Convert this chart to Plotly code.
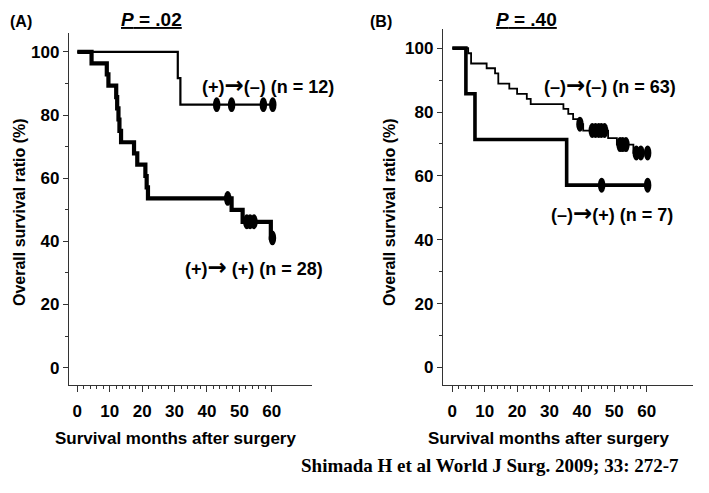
import plotly.graph_objects as go

W, H = 709, 493
OFF = 8  # default page body margin in the browser

# ---------------- data ----------------
# Panel A: (+)->(-) n=12 (thin)
a_neg_t = [0, 31.0, 31.8, 60.3]
a_neg_s = [100, 91.7, 83.3, 83.3]
a_neg_cens_t = [43.0, 47.6, 57.4, 60.3]
a_neg_cens_s = [83.3, 83.3, 83.3, 83.3]

# Panel A: (+)->(+) n=28 (thick)
a_pos_t = [0, 4.4, 9.1, 9.6, 12.0, 12.3, 12.7, 13.0, 13.5, 17.5, 18.5, 21.0, 21.4, 21.8, 47.6, 51.0, 59.7, 60.2]
a_pos_s = [100, 96.4, 92.9, 89.3, 85.7, 82.1, 78.6, 75.0, 71.4, 67.9, 64.3, 60.7, 57.1, 53.6, 50.0, 46.2, 41.1, 41.1]
a_pos_cens_t = [46.4, 52.3, 53.3, 54.5, 60.2]
a_pos_cens_s = [53.6, 46.2, 46.2, 46.2, 41.1]

# Panel B: (-)->(-) n=63 (thin)
b_neg_t = [0, 4.9, 5.8, 10.6, 13.2, 14.2, 17.6, 20.0, 23.0, 24.2, 34.3, 35.8, 37.3, 38.9, 40.4, 48.1, 50.8, 55.9, 60.3]
b_neg_s = [100, 98.4, 95.2, 93.7, 92.1, 88.9, 87.3, 85.7, 84.1, 82.5, 81.0, 79.4, 77.8, 76.2, 74.2, 71.8, 69.8, 67.2, 67.2]
b_neg_cens_t = [39.4, 43.2, 44.2, 45.2, 46.0, 47.0, 51.8, 52.6, 53.6, 56.8, 58.2, 60.3]
b_neg_cens_s = [76.2, 74.2, 74.2, 74.2, 74.2, 74.2, 69.8, 69.8, 69.8, 67.2, 67.2, 67.2]

# Panel B: (-)->(+) n=7 (thick)
b_pos_t = [0, 4.2, 7.0, 35.3, 60.3]
b_pos_s = [100, 85.7, 71.4, 57.1, 57.1]
b_pos_cens_t = [46.1, 60.3]
b_pos_cens_s = [57.1, 57.1]

x_ticks = [0, 10, 20, 30, 40, 50, 60]
x_minor = [t for t in range(0, 61, 2) if t % 10]
y_ticks = [0, 20, 40, 60, 80, 100]
y_minor = [10, 30, 50, 70, 90]

ARROW = "<span style='font-family:DejaVu Sans;font-size:23px'>\u2192</span>"
labels = {
    "a_neg": "(+)" + ARROW + "(\u2013) (n = 12)",
    "a_pos": "(+)" + ARROW + " (+) (n = 28)",
    "b_neg": "(\u2013)" + ARROW + "(\u2013) (n = 63)",
    "b_pos": "(\u2013)" + ARROW + "(+) (n = 7)",
}

# ---------------- figure ----------------
FONT = "Liberation Sans, Arial, sans-serif"
FW, FH = W - OFF, H - OFF

def px_x(p):
    return (p - OFF) / FW

def px_y(p):
    return 1 - (p - OFF) / FH

fig = go.Figure()

def add_curve(t, s, width, xa, ya):
    fig.add_trace(go.Scatter(x=t, y=s, mode="lines", line=dict(color="black", width=width, shape="hv"),
                             xaxis=xa, yaxis=ya, showlegend=False, hoverinfo="skip"))

add_curve(a_neg_t, a_neg_s, 2.2, "x", "y")
add_curve(a_pos_t, a_pos_s, 4.2, "x", "y")
add_curve(b_neg_t, b_neg_s, 1.8, "x2", "y2")
add_curve(b_pos_t, b_pos_s, 3.6, "x2", "y2")

shapes = []
def add_censors(ts, ss, xr, yr, hw=1.15, hh=2.35):
    for t, s in zip(ts, ss):
        shapes.append(dict(type="circle", xref=xr, yref=yr, x0=t - hw, x1=t + hw, y0=s - hh, y1=s + hh,
                           fillcolor="black", line=dict(width=0)))

add_censors(a_neg_cens_t, a_neg_cens_s, "x", "y")
add_censors(a_pos_cens_t, a_pos_cens_s, "x", "y")
add_censors(b_neg_cens_t, b_neg_cens_s, "x2", "y2")
add_censors(b_pos_cens_t, b_pos_cens_s, "x2", "y2")

axis_common = dict(showline=True, linecolor="#333", linewidth=1.3, ticks="outside", tickcolor="#333",
                   showgrid=False, zeroline=False, tickfont=dict(family=FONT, size=17, color="black", weight="bold"))

xaxis_common = dict(axis_common, tickvals=x_ticks, ticklen=6, tickwidth=1.3, ticklabelstandoff=4,
                    minor=dict(tickvals=x_minor, ticklen=3, tickcolor="#333", tickwidth=1, ticks="outside"))
yaxis_common = dict(axis_common, tickvals=y_ticks, ticklen=5, tickwidth=1.3, range=[-5.5, 106],
                    minor=dict(tickvals=y_minor, ticklen=3, tickcolor="#333", tickwidth=1, ticks="outside"))

fig.update_layout(
    width=FW, height=FH, margin=dict(l=0, r=0, t=0, b=0),
    paper_bgcolor="white", plot_bgcolor="white",
    xaxis=dict(xaxis_common, domain=[px_x(69), px_x(312)], range=[-2.56, 72.4], anchor="y"),
    yaxis=dict(yaxis_common, domain=[px_y(385), px_y(33)], anchor="x"),
    xaxis2=dict(xaxis_common, domain=[px_x(443), px_x(693)], range=[-2.87, 74.3], anchor="y2"),
    yaxis2=dict(yaxis_common, domain=[px_y(385), px_y(29)], anchor="x2"),
    shapes=shapes,
)

anns = []
def ann(text, x, y, size=17, angle=0, family=FONT, bold=True, xanchor="center"):
    anns.append(dict(text=text, x=px_x(x), y=px_y(y), xref="paper", yref="paper", showarrow=False,
                     xanchor=xanchor, yanchor="middle", textangle=angle,
                     font=dict(family=family, size=size, color="black", weight="bold" if bold else "normal")))

ann("(A)", 8, 21, size=16, xanchor="left")
ann("(B)", 381, 21, size=16)
ann("<u><i>P</i> = .02</u>", 151, 19, size=19)
ann("<u><i>P</i> = .40</u>", 526, 19, size=19)
ann(labels["a_neg"], 268, 85, size=18)
ann(labels["a_pos"], 254, 267, size=18)
ann(labels["b_neg"], 610, 85, size=18)
ann(labels["b_pos"], 612, 213, size=18)
ann("Overall survival ratio (%)", 19, 212, angle=-90, size=16)
ann("Overall survival ratio (%)", 389, 212, angle=-90, size=16)
ann("Survival months after surgery", 175, 438, size=17)
ann("Survival months after surgery", 548, 438, size=17)
ann("Shimada H et al World J Surg. 2009; 33: 272-7", 490, 465, size=19,
    family="Liberation Serif, Times New Roman, serif")
fig.update_layout(annotations=anns)

fig.write_html("out.html")
